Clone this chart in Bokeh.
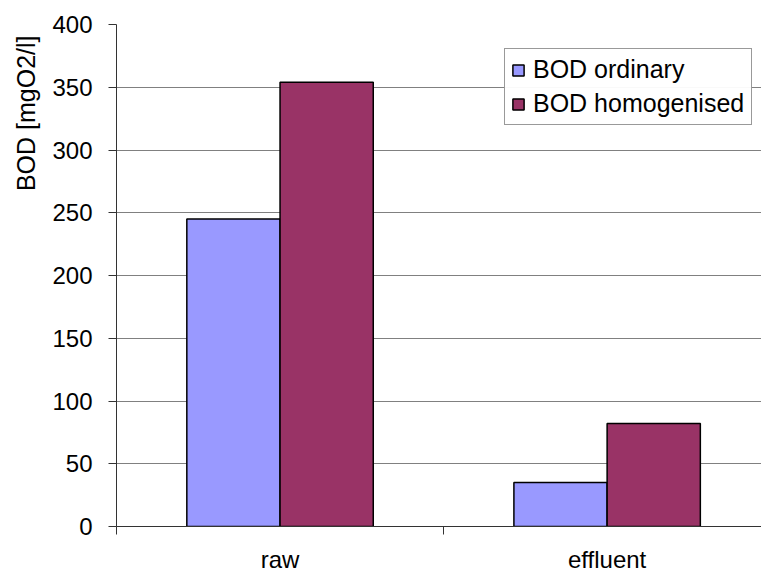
from bokeh.plotting import figure
from bokeh.models import ColumnDataSource, FixedTicker, Range1d, Legend, LegendItem, Title
from bokeh.transform import dodge
from bokeh.embed import file_html
from bokeh.resources import INLINE

categories = ["raw", "effluent"]
bod_ordinary = [245, 35]
bod_homogenised = [354, 82]
y_ticks = [0, 50, 100, 150, 200, 250, 300, 350, 400]
y_title = "BOD [mgO2/l]"

xpos = [i + 0.5 for i in range(len(categories))]
src = ColumnDataSource(dict(x=xpos, ordinary=bod_ordinary, homog=bod_homogenised))

p = figure(frame_width=645, frame_height=502, output_backend="svg", toolbar_location=None,
           x_range=Range1d(0, 1.972), y_range=Range1d(0, 400))
p.min_border_left = 115
p.min_border_right = 0
p.min_border_top = 24
p.min_border_bottom = 0
p.outline_line_color = None
p.background_fill_color = "white"

w = 0.285
r1 = p.vbar(x=dodge("x", -w / 2), top="ordinary", width=w, source=src,
            fill_color="#9999FF", line_color="black", line_width=1.5)
r2 = p.vbar(x=dodge("x", w / 2), top="homog", width=w, source=src,
            fill_color="#993366", line_color="black", line_width=1.5)

FONT = "Liberation Sans"
p.xgrid.visible = False
p.ygrid.ticker = FixedTicker(ticks=y_ticks)
p.ygrid.grid_line_color = "#808080"
p.ygrid.grid_line_width = 1

p.yaxis.ticker = FixedTicker(ticks=y_ticks)
p.yaxis.major_label_text_font = FONT
p.yaxis.major_label_text_font_size = "24px"
p.yaxis.major_label_text_color = "black"
p.yaxis.axis_line_color = "#333333"
p.yaxis.major_tick_line_color = "#333333"
p.yaxis.major_tick_in = 0
p.yaxis.major_tick_out = 8
p.yaxis.minor_tick_line_color = None
p.yaxis.major_label_standoff = 16

ytitle = Title(text=y_title, align="right", offset=11, standoff=19,
               text_font=FONT, text_font_size="25px", text_color="black",
               text_font_style="normal")
p.add_layout(ytitle, "left")

p.xaxis.ticker = FixedTicker(ticks=xpos, minor_ticks=[0, 1, 2])
p.xaxis.major_label_overrides = {xpos[i]: categories[i] for i in range(len(categories))}
p.xaxis.major_label_text_font = FONT
p.xaxis.major_label_text_font_size = "24px"
p.xaxis.major_label_text_color = "black"
p.xaxis.major_tick_line_color = None
p.xaxis.minor_tick_line_color = "#333333"
p.xaxis.minor_tick_in = 0
p.xaxis.minor_tick_out = 8
p.xaxis.axis_line_color = "#333333"
p.xaxis.major_label_standoff = 11

legend = Legend(items=[LegendItem(label="BOD ordinary", renderers=[r1]),
                       LegendItem(label="BOD homogenised", renderers=[r2])],
                location=(388, 401))
legend.label_text_font = FONT
legend.label_text_font_size = "25px"
legend.label_text_color = "black"
legend.border_line_color = "#333333"
legend.border_line_width = 1
legend.glyph_width = 14
legend.glyph_height = 14
legend.label_standoff = 8
legend.padding = 6
legend.spacing = 5
legend.margin = 0
legend.label_height = 29
legend.label_width = 212
p.add_layout(legend)

open("out.html", "w").write(file_html(p, INLINE))
